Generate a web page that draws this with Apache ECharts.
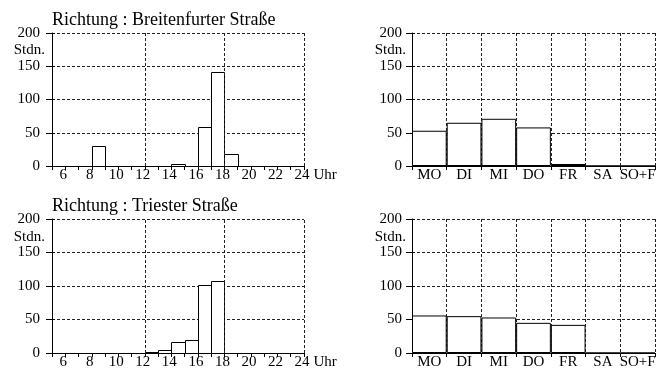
<!DOCTYPE html>
<html>
<head>
<meta charset="utf-8">
<script src="https://cdn.jsdelivr.net/npm/echarts@6/dist/echarts.min.js"></script>
<style>
html,body{margin:0;padding:0;background:#fff;}
#chart{width:671px;height:374px;}
</style>
</head>
<body>
<div id="chart"></div>
<script>
// ---- data ----
const titleTop = 'Richtung : Breitenfurter Straße';
const titleBottom = 'Richtung : Triester Straße';
const yUnit = 'Stdn.';
const xUnit = 'Uhr';
const hourStarts = [5,6,7,8,9,10,11,12,13,14,15,16,17,18,19,20,21,22,23];
const breitenfurterByHour = [0,0,0,30,0,0,0,0,0,3,0,58,141,18,0,0,0,0,0];
const triesterByHour = [0,0,0,0,0,0,0,1,5,16,20,101,107,0,0,0,0,0,0];
const weekdays = ['MO','DI','MI','DO','FR','SA','SO+F'];
const breitenfurterByDay = [53,65,71,58,3,0,0];
const triesterByDay = [56,55,53,45,42,0,0];
const hourGridLines = [12,18,24];

// ---- styling ----
const FONT = 'Liberation Serif';
const INK = '#000';
const dotted = [3,2];
const grids = [
  {left:52, top:33, width:252, height:133},
  {left:412, top:33, width:243, height:133},
  {left:52, top:219, width:252, height:134},
  {left:412, top:219, width:243, height:134}
];

function yAxisCfg(gridIndex, margin){
  return {
    type:'value', gridIndex, min:0, max:200, interval:50,
    axisLine:{show:true, lineStyle:{color:INK, width:1}},
    axisTick:{show:true, length:6, lineStyle:{color:INK}},
    axisLabel:{color:INK, fontFamily:FONT, fontSize:15, margin:margin},
    splitLine:{show:true, lineStyle:{color:'#222', type:dotted, width:1}}
  };
}
function yInnerTicks(gridIndex){
  return {
    type:'value', gridIndex, min:0, max:200, interval:50, position:'left',
    axisLine:{show:false},
    axisTick:{show:true, inside:true, length:3, lineStyle:{color:INK}},
    axisLabel:{show:false},
    splitLine:{show:false}
  };
}
function hourAxis(gridIndex){
  return {
    type:'value', gridIndex, min:5, max:24, interval:1,
    name:xUnit, nameLocation:'end', nameGap:7,
    nameTextStyle:{color:INK, fontFamily:FONT, fontSize:15, verticalAlign:'top', padding:[2,0,0,0]},
    axisLine:{show:true, onZero:false, lineStyle:{color:INK, width:1}},
    axisTick:{show:true, length:4, lineStyle:{color:INK}},
    axisLabel:{color:INK, fontFamily:FONT, fontSize:15, margin:2,
      formatter:function(v){ return v % 2 === 0 ? String(v) : ''; },
      padding:[0,4,0,0]},
    splitLine:{show:false}
  };
}
function dayAxis(gridIndex){
  return {
    type:'category', gridIndex, data:weekdays, boundaryGap:true,
    axisLine:{show:true, lineStyle:{color:INK, width:1}},
    axisTick:{show:true, length:4, interval:0, lineStyle:{color:INK}},
    axisLabel:{color:INK, fontFamily:FONT, fontSize:15, margin:2, interval:0},
    splitLine:{show:true, interval:0, lineStyle:{color:'#222', type:dotted, width:1}}
  };
}
function snap(v){ return Math.round(v) + 0.5; }
function hourSeries(idx, values){
  return {
    type:'custom', xAxisIndex:idx, yAxisIndex:idx,
    data: hourStarts.map(function(h,i){ return [h, values[i]]; }),
    encode:{x:0, y:1},
    renderItem:function(params, api){
      const x0 = api.value(0), v = api.value(1);
      const pTop = api.coord([x0, v]);
      const pBot = api.coord([x0 + 1, 0]);
      const xa = snap(pTop[0]), xb = snap(pBot[0]);
      const ya = snap(pTop[1]), yb = snap(pBot[1]);
      return {type:'rect', z2:5,
        shape:{x:xa, y:ya, width:xb-xa, height:yb-ya},
        style:{fill:'#fff', stroke:INK, lineWidth:1}};
    },
    markLine:{
      silent:true, symbol:'none', label:{show:false},
      lineStyle:{color:'#222', type:dotted, width:1},
      data: hourGridLines.map(function(h){ return {xAxis:h}; })
    }
  };
}
function daySeries(idx, values){
  return {
    type:'bar', xAxisIndex:idx, yAxisIndex:idx, data:values,
    barCategoryGap:0,
    itemStyle:{color:'#fff', borderColor:INK, borderWidth:1}
  };
}

const chart = echarts.init(document.getElementById('chart'), null, {renderer:'canvas'});
chart.setOption({
  backgroundColor:'#fff',
  animation:false,
  grid: grids,
  xAxis:[hourAxis(0), dayAxis(1), hourAxis(2), dayAxis(3)],
  yAxis:[yAxisCfg(0,12), yAxisCfg(1,10), yAxisCfg(2,12), yAxisCfg(3,10),
         yInnerTicks(0), yInnerTicks(1), yInnerTicks(2), yInnerTicks(3)],
  series:[
    hourSeries(0, breitenfurterByHour),
    daySeries(1, breitenfurterByDay),
    hourSeries(2, triesterByHour),
    daySeries(3, triesterByDay)
  ],
  graphic:[
    {type:'text', x:52, y:20, style:{text:titleTop, fill:INK, font:'18px "Liberation Serif"', textAlign:'left', textVerticalAlign:'middle'}},
    {type:'text', x:52, y:206, style:{text:titleBottom, fill:INK, font:'18px "Liberation Serif"', textAlign:'left', textVerticalAlign:'middle'}},
    {type:'text', x:45, y:50, style:{text:yUnit, fill:INK, font:'15px "Liberation Serif"', textAlign:'right', textVerticalAlign:'middle'}},
    {type:'text', x:406, y:50, style:{text:yUnit, fill:INK, font:'15px "Liberation Serif"', textAlign:'right', textVerticalAlign:'middle'}},
    {type:'text', x:45, y:237, style:{text:yUnit, fill:INK, font:'15px "Liberation Serif"', textAlign:'right', textVerticalAlign:'middle'}},
    {type:'text', x:406, y:237, style:{text:yUnit, fill:INK, font:'15px "Liberation Serif"', textAlign:'right', textVerticalAlign:'middle'}}
  ]
});
</script>
</body>
</html>
